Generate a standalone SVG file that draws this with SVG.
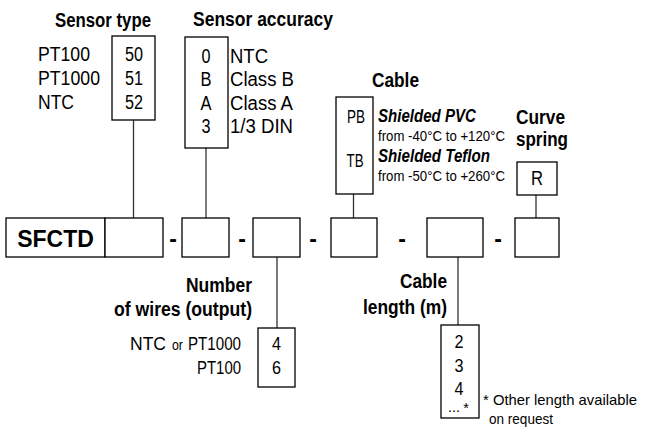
<svg xmlns="http://www.w3.org/2000/svg" width="646" height="433" viewBox="0 0 646 433">
<style>
text{font-family:"Liberation Sans",Arial,sans-serif;fill:#000}
.h{font-weight:bold;font-size:20px}
.r{font-size:20px}
.s{font-size:14.5px}
.m{font-size:19px}
.n{font-size:15px}
.bi{font-weight:bold;font-style:italic;font-size:18px}
.box{fill:#fff;stroke:#000;stroke-width:1.3}
.ln{stroke:#333;stroke-width:1.3;fill:none}
.c{text-anchor:middle}
.e{text-anchor:end}
.d{font-weight:bold;font-size:23px;text-anchor:middle}
</style>
<rect width="646" height="433" fill="#fff"/>
<g id="connectors">
<line class="ln" x1="133.5" y1="120" x2="133.5" y2="218"/>
<line class="ln" x1="206" y1="148" x2="206" y2="218"/>
<line class="ln" x1="353.5" y1="194" x2="353.5" y2="218"/>
<line class="ln" x1="536" y1="195" x2="536" y2="218"/>
<line class="ln" x1="277" y1="257" x2="277" y2="328"/>
<line class="ln" x1="458" y1="257" x2="458" y2="325"/>
</g>
<g id="code-row">
<rect class="box" x="6" y="218" width="99" height="39"/>
<text x="55.5" y="247" class="c" style="font-weight:bold;font-size:23px">SFCTD</text>
<rect class="box" x="105" y="218" width="58" height="39"/>
<text x="173" y="247" class="d">-</text>
<rect class="box" x="182" y="218" width="47" height="39"/>
<text x="242" y="247" class="d">-</text>
<rect class="box" x="253" y="218" width="47" height="39"/>
<text x="313" y="247" class="d">-</text>
<rect class="box" x="331" y="218" width="46" height="39"/>
<text x="402" y="247" class="d">-</text>
<rect class="box" x="427" y="218" width="56" height="39"/>
<text x="498" y="247" class="d">-</text>
<rect class="box" x="515" y="218" width="44" height="39"/>
</g>
<g id="sensor-type">
<text x="55" y="27" class="h" textLength="96" lengthAdjust="spacingAndGlyphs">Sensor type</text>
<rect class="box" x="112" y="36" width="43" height="84"/>
<text x="38" y="61" class="r" textLength="52" lengthAdjust="spacingAndGlyphs">PT100</text>
<text x="38" y="85" class="r" textLength="62" lengthAdjust="spacingAndGlyphs">PT1000</text>
<text x="38" y="109" class="r" textLength="36" lengthAdjust="spacingAndGlyphs">NTC</text>
<text x="134" y="61" class="r c" textLength="18" lengthAdjust="spacingAndGlyphs">50</text>
<text x="134" y="85" class="r c" textLength="18" lengthAdjust="spacingAndGlyphs">51</text>
<text x="134" y="109" class="r c" textLength="18" lengthAdjust="spacingAndGlyphs">52</text>
</g>
<g id="sensor-accuracy">
<text x="193" y="26" class="h" textLength="140" lengthAdjust="spacingAndGlyphs">Sensor accuracy</text>
<rect class="box" x="185" y="37" width="43" height="111"/>
<text x="206" y="63" class="r c" textLength="9" lengthAdjust="spacingAndGlyphs">0</text>
<text x="206" y="86" class="r c" textLength="11" lengthAdjust="spacingAndGlyphs">B</text>
<text x="206" y="110" class="r c" textLength="11" lengthAdjust="spacingAndGlyphs">A</text>
<text x="206" y="133" class="r c" textLength="9" lengthAdjust="spacingAndGlyphs">3</text>
<text x="230" y="63" class="r" textLength="38" lengthAdjust="spacingAndGlyphs">NTC</text>
<text x="230" y="86" class="r" textLength="64" lengthAdjust="spacingAndGlyphs">Class B</text>
<text x="230" y="110" class="r" textLength="63" lengthAdjust="spacingAndGlyphs">Class A</text>
<text x="230" y="133" class="r" textLength="63" lengthAdjust="spacingAndGlyphs">1/3 DIN</text>
</g>
<g id="cable">
<text x="372" y="87" class="h" textLength="47" lengthAdjust="spacingAndGlyphs">Cable</text>
<rect class="box" x="336" y="97" width="37" height="97"/>
<text x="356" y="123" class="m c" textLength="18" lengthAdjust="spacingAndGlyphs">PB</text>
<text x="355" y="167" class="m c" textLength="17" lengthAdjust="spacingAndGlyphs">TB</text>
<text x="378" y="122" class="bi" textLength="98" lengthAdjust="spacingAndGlyphs">Shielded PVC</text>
<text x="378" y="141" class="s" textLength="127" lengthAdjust="spacingAndGlyphs">from -40°C to +120°C</text>
<text x="378" y="162" class="bi" textLength="112" lengthAdjust="spacingAndGlyphs">Shielded Teflon</text>
<text x="378" y="181" class="s" textLength="127" lengthAdjust="spacingAndGlyphs">from -50°C to +260°C</text>
</g>
<g id="curve-spring">
<text x="516" y="124" class="h" textLength="49" lengthAdjust="spacingAndGlyphs">Curve</text>
<text x="516" y="146" class="h" textLength="52" lengthAdjust="spacingAndGlyphs">spring</text>
<rect class="box" x="517" y="162" width="40" height="33"/>
<text x="537" y="185" class="r c" textLength="12" lengthAdjust="spacingAndGlyphs">R</text>
</g>
<g id="wires">
<text x="252" y="292" class="h e" textLength="66" lengthAdjust="spacingAndGlyphs">Number</text>
<text x="252" y="316" class="h e" textLength="138" lengthAdjust="spacingAndGlyphs">of wires (output)</text>
<rect class="box" x="258" y="328" width="37" height="59"/>
<text x="130" y="350" class="m" textLength="36" lengthAdjust="spacingAndGlyphs">NTC</text>
<text x="172" y="350" class="s" textLength="11" lengthAdjust="spacingAndGlyphs">or</text>
<text x="188" y="350" class="m" textLength="53" lengthAdjust="spacingAndGlyphs">PT1000</text>
<text x="241" y="374" class="m e" textLength="44" lengthAdjust="spacingAndGlyphs">PT100</text>
<text x="276.5" y="350" class="m c" textLength="9" lengthAdjust="spacingAndGlyphs">4</text>
<text x="276.5" y="374" class="m c" textLength="9" lengthAdjust="spacingAndGlyphs">6</text>
</g>
<g id="cable-length">
<text x="447" y="288" class="h e" textLength="47" lengthAdjust="spacingAndGlyphs">Cable</text>
<text x="447" y="314" class="h e" textLength="84" lengthAdjust="spacingAndGlyphs">length (m)</text>
<rect class="box" x="441" y="325" width="38" height="93"/>
<text x="459" y="348" class="m c" textLength="9" lengthAdjust="spacingAndGlyphs">2</text>
<text x="459" y="372" class="m c" textLength="9" lengthAdjust="spacingAndGlyphs">3</text>
<text x="459" y="395" class="m c" textLength="9" lengthAdjust="spacingAndGlyphs">4</text>
<text x="454" y="412" class="s c">...</text>
<text x="466" y="413" class="s c">*</text>
<text x="483" y="405" class="n" textLength="154" lengthAdjust="spacingAndGlyphs">* Other length available</text>
<text x="489" y="424" class="n" textLength="64" lengthAdjust="spacingAndGlyphs">on request</text>
</g>
</svg>
